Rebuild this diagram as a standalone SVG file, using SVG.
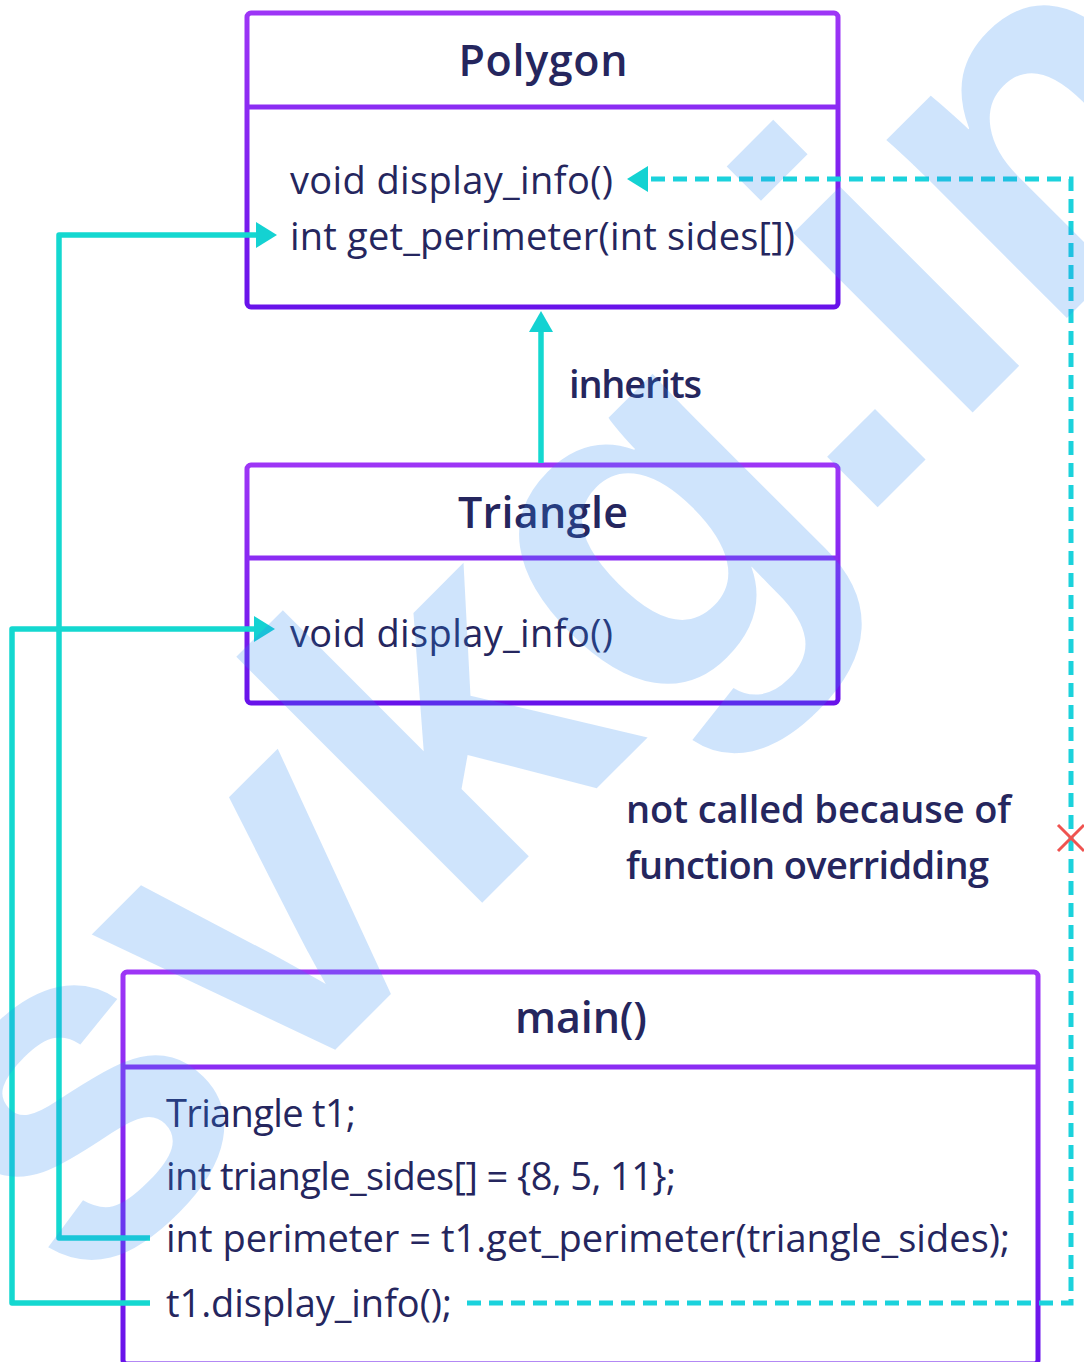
<svg xmlns="http://www.w3.org/2000/svg" width="1084" height="1362" viewBox="0 0 1084 1362">
  <defs>
    <linearGradient id="frame" x1="0" y1="0" x2="0" y2="1">
      <stop offset="0" stop-color="#9d35f6"/>
      <stop offset="1" stop-color="#6812ea"/>
    </linearGradient>
  </defs>
  <style>
    .box { fill: #ffffff; stroke: url(#frame); stroke-width: 5; }
    .div { stroke: #8b2cf3; stroke-width: 5; }
    .title { font-family: "Open Sans", "Liberation Sans", sans-serif; font-size: 43px; font-weight: 600; fill: #25265e; text-anchor: middle; }
    .member { font-family: "Open Sans", "Liberation Sans", sans-serif; font-size: 38px; font-weight: 500; fill: #25265e; }
    .note { font-family: "Open Sans", "Liberation Sans", sans-serif; font-size: 38px; font-weight: 600; fill: #25265e; }
    .link { fill: none; stroke: #14d8d0; stroke-width: 5.5; stroke-linejoin: round; }
    .dash { fill: none; stroke: #1bd2dc; stroke-width: 5; stroke-dasharray: 14 8; }
    .head { fill: #14d2d2; }
    .mark { font-family: "Liberation Sans", sans-serif; font-size: 480px; font-weight: 700; fill: #308cf0; fill-opacity: 0.23; }
  </style>
  <rect width="1084" height="1362" fill="#ffffff"/>

  <g id="polygon">
    <rect class="box" x="247" y="13" width="591" height="294" rx="4"/>
    <line class="div" x1="247" y1="107" x2="838" y2="107"/>
    <text class="title" x="543" y="76" textLength="169" lengthAdjust="spacing">Polygon</text>
    <text class="member" x="290" y="194" textLength="323" lengthAdjust="spacing">void display_info()</text>
    <text class="member" x="290" y="250" textLength="505" lengthAdjust="spacing">int get_perimeter(int sides[])</text>
  </g>

  <g id="triangle">
    <rect class="box" x="247" y="465" width="591" height="238" rx="4"/>
    <line class="div" x1="247" y1="558" x2="838" y2="558"/>
    <text class="title" x="543" y="528" textLength="170" lengthAdjust="spacing">Triangle</text>
    <text class="member" x="290" y="647" textLength="323" lengthAdjust="spacing">void display_info()</text>
  </g>

  <g id="main">
    <rect class="box" x="123" y="972" width="915" height="392" rx="4"/>
    <line class="div" x1="123" y1="1067" x2="1038" y2="1067"/>
    <text class="title" x="581" y="1033" textLength="132" lengthAdjust="spacing">main()</text>
    <text class="member" x="166" y="1127" textLength="190" lengthAdjust="spacing">Triangle t1;</text>
    <text class="member" x="166" y="1190" textLength="510" lengthAdjust="spacing">int triangle_sides[] = {8, 5, 11};</text>
    <text class="member" x="166" y="1252" textLength="844" lengthAdjust="spacing">int perimeter = t1.get_perimeter(triangle_sides);</text>
    <text class="member" x="166" y="1317" textLength="286" lengthAdjust="spacing">t1.display_info();</text>
  </g>

  <g id="note">
    <text class="note" x="626" y="823" textLength="385" lengthAdjust="spacing">not called because of</text>
    <text class="note" x="626" y="879" textLength="363" lengthAdjust="spacing">function overridding</text>
  </g>

  <g id="connectors">
    <!-- Triangle inherits Polygon -->
    <line class="link" x1="541" y1="463" x2="541" y2="328"/>
    <polygon class="head" points="541,311 529,332 553,332"/>
    <text class="note" x="569" y="398" textLength="133" lengthAdjust="spacing">inherits</text>
    <!-- get_perimeter call resolves to Polygon -->
    <polyline class="link" points="150,1238 59,1238 59,235 259,235"/>
    <polygon class="head" points="277,235 256,222 256,248"/>
    <!-- display_info call resolves to Triangle -->
    <polyline class="link" points="150,1303 12,1303 12,629 257,629"/>
    <polygon class="head" points="275,629 254,616 254,642"/>
    <!-- Polygon::display_info is not reached -->
    <polyline class="dash" points="467,1303 1071,1303 1071,179 650,179"/>
    <polygon class="head" points="627,179 648,166 648,192"/>
    <path d="M1058,825 L1084,851 M1084,825 L1058,851" stroke="#ef5350" stroke-width="3" fill="none"/>
  </g>

  <text class="mark" transform="translate(81,1304) rotate(-45)">svkg.in</text>
</svg>
